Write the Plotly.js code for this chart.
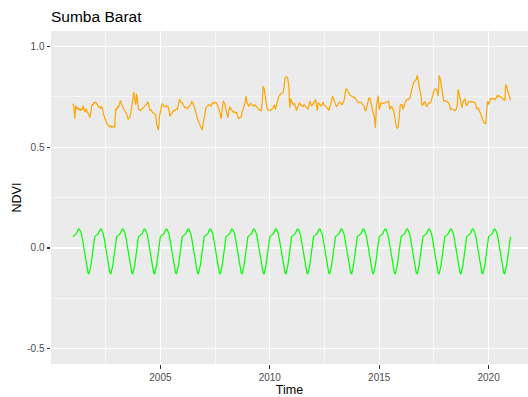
<!DOCTYPE html>
<html>
<head>
<meta charset="utf-8">
<script src="https://cdn.plot.ly/plotly-3.0.1.min.js"></script>
<style>html,body{margin:0;padding:0;background:#fff;overflow:hidden}#chart{width:528px;height:397px}</style>
</head>
<body>
<div id="chart"></div>
<script>
// 16-day composites, 23 per year, starting 2001.0
const startYear = 2001;
const stepsPerYear = 23;

const ndvi2001 = [0.715,0.70,0.64,0.705,0.69,0.695,0.685,0.69,0.68,0.69,0.685,0.705,0.68,0.675,0.69,0.675,0.665,0.655,0.646,0.675,0.711,0.705,0.72];
const ndvi2002 = [0.718,0.722,0.715,0.705,0.698,0.70,0.692,0.70,0.695,0.665,0.653,0.635,0.62,0.612,0.61,0.607,0.60,0.605,0.598,0.60,0.603,0.60,0.69];
const ndvi2003 = [0.685,0.70,0.695,0.715,0.731,0.715,0.705,0.695,0.69,0.68,0.67,0.655,0.637,0.645,0.65,0.67,0.70,0.728,0.774,0.735,0.71,0.764,0.72];
const ndvi2004 = [0.687,0.685,0.68,0.685,0.69,0.69,0.695,0.70,0.705,0.715,0.725,0.70,0.68,0.685,0.675,0.67,0.668,0.665,0.66,0.612,0.595,0.584,0.65];
const ndvi2005 = [0.68,0.70,0.715,0.705,0.70,0.70,0.705,0.70,0.70,0.685,0.653,0.66,0.67,0.675,0.68,0.68,0.685,0.69,0.687,0.71,0.736,0.73,0.72];
const ndvi2006 = [0.72,0.705,0.70,0.695,0.695,0.69,0.695,0.695,0.705,0.715,0.725,0.72,0.71,0.695,0.675,0.653,0.64,0.625,0.615,0.605,0.595,0.584,0.62];
const ndvi2007 = [0.646,0.67,0.695,0.70,0.705,0.71,0.705,0.703,0.71,0.72,0.715,0.72,0.723,0.718,0.71,0.695,0.68,0.665,0.64,0.69,0.728,0.72,0.71];
const ndvi2008 = [0.68,0.66,0.646,0.68,0.70,0.69,0.685,0.678,0.672,0.675,0.67,0.672,0.66,0.64,0.645,0.648,0.65,0.675,0.70,0.705,0.72,0.752,0.72];
const ndvi2009 = [0.71,0.703,0.71,0.717,0.71,0.705,0.703,0.71,0.705,0.705,0.695,0.687,0.685,0.68,0.68,0.72,0.802,0.79,0.752,0.72,0.695,0.685,0.68];
const ndvi2010 = [0.68,0.685,0.687,0.69,0.70,0.71,0.687,0.71,0.736,0.745,0.755,0.764,0.765,0.768,0.77,0.80,0.843,0.848,0.848,0.835,0.80,0.695,0.74];
const ndvi2011 = [0.725,0.72,0.71,0.715,0.703,0.68,0.69,0.705,0.72,0.71,0.705,0.703,0.70,0.71,0.707,0.70,0.695,0.687,0.70,0.728,0.715,0.703,0.71];
const ndvi2012 = [0.715,0.725,0.736,0.70,0.68,0.72,0.715,0.71,0.703,0.71,0.723,0.71,0.703,0.70,0.695,0.69,0.68,0.70,0.71,0.73,0.752,0.74,0.725];
const ndvi2013 = [0.72,0.70,0.705,0.715,0.723,0.72,0.715,0.71,0.72,0.728,0.76,0.789,0.785,0.775,0.77,0.76,0.755,0.75,0.748,0.745,0.748,0.74,0.728];
const ndvi2014 = [0.725,0.722,0.72,0.723,0.72,0.715,0.71,0.705,0.683,0.68,0.70,0.72,0.74,0.744,0.72,0.695,0.68,0.665,0.646,0.596,0.70,0.736,0.755];
const ndvi2015 = [0.685,0.705,0.72,0.717,0.715,0.718,0.72,0.722,0.72,0.725,0.726,0.687,0.695,0.703,0.69,0.68,0.66,0.629,0.60,0.593,0.60,0.65,0.703];
const ndvi2016 = [0.71,0.71,0.687,0.705,0.726,0.73,0.736,0.735,0.738,0.74,0.76,0.786,0.805,0.819,0.825,0.83,0.835,0.855,0.83,0.80,0.79,0.75,0.706];
const ndvi2017 = [0.71,0.72,0.726,0.71,0.70,0.71,0.72,0.718,0.72,0.735,0.752,0.77,0.785,0.789,0.785,0.78,0.752,0.855,0.84,0.82,0.785,0.752,0.726];
const ndvi2018 = [0.728,0.73,0.725,0.722,0.72,0.705,0.687,0.69,0.688,0.685,0.682,0.68,0.69,0.703,0.786,0.765,0.74,0.715,0.695,0.72,0.736,0.74,0.72];
const ndvi2019 = [0.703,0.715,0.726,0.725,0.722,0.726,0.724,0.722,0.72,0.72,0.70,0.687,0.695,0.685,0.673,0.66,0.646,0.63,0.621,0.618,0.616,0.68,0.728];
const ndvi2020 = [0.71,0.73,0.74,0.738,0.742,0.74,0.738,0.736,0.745,0.755,0.75,0.755,0.75,0.748,0.745,0.738,0.736,0.73,0.81,0.80,0.78,0.76,0.74];
const ndvi2021 = [0.731];

// seasonal component (one cycle of 23 composites, identical every year)
const seasonalCycle = [0.056,0.060,0.064,0.067,0.072,0.085,0.094,0.093,0.084,0.070,0.045,0.015,-0.015,-0.045,-0.072,-0.100,-0.125,-0.128,-0.110,-0.085,-0.050,-0.015,0.020];

const ndvi = [].concat(ndvi2001,ndvi2002,ndvi2003,ndvi2004,ndvi2005,ndvi2006,ndvi2007,ndvi2008,ndvi2009,ndvi2010,
  ndvi2011,ndvi2012,ndvi2013,ndvi2014,ndvi2015,ndvi2016,ndvi2017,ndvi2018,ndvi2019,ndvi2020,ndvi2021);
const time = ndvi.map((_, i) => startYear + i / stepsPerYear);
const seasonal = time.map((_, i) => seasonalCycle[i % stepsPerYear]);

const xTicks = [2005, 2010, 2015, 2020];
const yTicks = [-0.5, 0, 0.5, 1.0];
const yTickText = ["-0.5", "0.0", "0.5", "1.0"];

const font = "Liberation Sans, Arial, sans-serif";

Plotly.newPlot("chart", [
  {x: time, y: ndvi, type: "scatter", mode: "lines", line: {color: "#FFA500", width: 1.2}, hoverinfo: "skip"},
  {x: time, y: seasonal, type: "scatter", mode: "lines", line: {color: "#00FF00", width: 1.2}, hoverinfo: "skip"}
], {
  width: 528, height: 397,
  margin: {l: 51, r: 0, t: 31, b: 33},
  paper_bgcolor: "#FFFFFF",
  plot_bgcolor: "#EBEBEB",
  showlegend: false,
  font: {family: font},
  title: {text: "Sumba Barat", font: {size: 15.5, color: "#000000", family: font},
    xref: "container", x: 51/528, xanchor: "left", yref: "container", y: 1 - 16.5/397, yanchor: "middle"},
  xaxis: {
    range: [2000.0, 2021.8], tickvals: xTicks, ticktext: xTicks.map(String),
    showgrid: true, gridcolor: "#FFFFFF", gridwidth: 1.1, zeroline: false, showline: false,
    ticks: "outside", ticklen: 3.5, tickwidth: 1.1, tickcolor: "#333333",
    tickfont: {size: 10, color: "#4D4D4D", family: font},
    minor: {dtick: 2.5, tick0: 2000, showgrid: true, gridcolor: "#FFFFFF", gridwidth: 0.55, ticks: ""},
    title: {text: "Time", font: {size: 12.5, color: "#000000", family: font}, standoff: 4}
  },
  yaxis: {
    range: [-0.575, 1.075], tickvals: yTicks, ticktext: yTickText,
    showgrid: true, gridcolor: "#FFFFFF", gridwidth: 1.1, zeroline: false, showline: false,
    ticks: "outside", ticklen: 3.5, tickwidth: 1.1, tickcolor: "#333333",
    tickfont: {size: 10, color: "#4D4D4D", family: font},
    minor: {dtick: 0.25, tick0: 0, showgrid: true, gridcolor: "#FFFFFF", gridwidth: 0.55, ticks: ""},
    title: {text: "NDVI", font: {size: 12.5, color: "#000000", family: font}, standoff: 2}
  }
}, {staticPlot: true, displayModeBar: false});
</script>
</body>
</html>
